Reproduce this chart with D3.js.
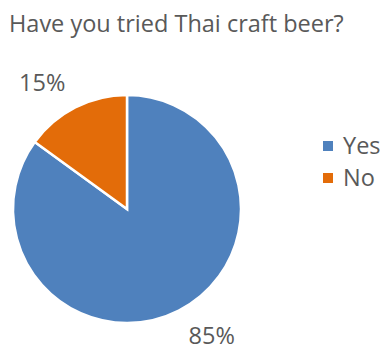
<!DOCTYPE html>
<html>
<head>
<meta charset="utf-8">
<script src="https://cdn.jsdelivr.net/npm/d3@7"></script>
<style>
  body { margin: 0; background: #fff; }
  text { font-family: "Open Sans", sans-serif; fill: #595959; }
</style>
</head>
<body>
<div id="chart"></div>
<script>
// data
const title = "Have you tried Thai craft beer?"
const categories = ["Yes", "No"]
const values = [85, 15]
const colorsList = ["#4F81BD", "#E36C09"]

const width = 381,
    height = 350;

const cx = 127, cy = 209, radius = 114
const fontSize = "23.5px"

const svg = d3.select("#chart")
    .append("svg")
    .attr("width", width)
    .attr("height", height)

svg.append("text")
    .attr("x", 9)
    .attr("y", 32)
    .style("font-size", fontSize)
    .text(title)

const color = d3.scaleOrdinal()
    .domain(categories)
    .range(colorsList)

const pie = d3.pie()
    .sort(null)
    .value(d => d.value)

const data_ready = pie(categories.map((c, i) => ({ name: c, value: values[i] })))

const g = svg.append("g")
    .attr("transform", `translate(${cx},${cy})`)

g.selectAll("path")
    .data(data_ready)
    .join("path")
    .attr("d", d3.arc().innerRadius(0).outerRadius(radius))
    .attr("fill", d => color(d.data.name))
    .attr("stroke", "white")
    .style("stroke-width", "2.5px")

// labels outside the pie, slightly rotated like Excel's best fit
const labelArc = d3.arc().innerRadius(152).outerRadius(152)
const shift = 0.12
const total = d3.sum(values)

g.selectAll("text.lbl")
    .data(data_ready)
    .join("text")
    .attr("class", "lbl")
    .attr("transform", d => `translate(${labelArc.centroid({ startAngle: d.startAngle - shift, endAngle: d.endAngle - shift })})`)
    .attr("text-anchor", "middle")
    .attr("dy", "0.36em")
    .style("font-size", fontSize)
    .text(d => Math.round(d.data.value / total * 100) + "%")

// legend
const legend = svg.append("g")
    .attr("transform", "translate(323,141)")

const item = legend.selectAll("g")
    .data(categories)
    .join("g")
    .attr("transform", (d, i) => `translate(0,${i * 32})`)

item.append("rect")
    .attr("width", 10)
    .attr("height", 10)
    .attr("fill", d => color(d))

item.append("text")
    .attr("x", 20)
    .attr("y", 13)
    .style("font-size", fontSize)
    .text(d => d)
</script>
</body>
</html>
